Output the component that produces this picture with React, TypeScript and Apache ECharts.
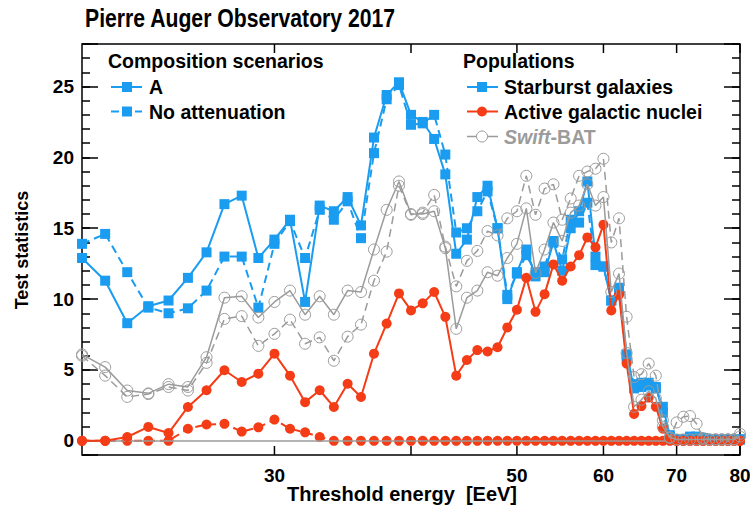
import React, { useEffect, useRef } from 'react';
import * as echarts from 'echarts';

// Threshold energies (EeV)
const energies = [
  20, 21, 22, 23, 24, 25, 26, 27, 28, 29,
  30, 31, 32, 33, 34, 35, 36, 37, 38, 39,
  40, 41, 42, 43, 44, 45, 46, 47, 48, 49,
  50, 51, 52, 53, 54, 55, 56, 57, 58, 59,
  60, 61, 62, 63, 64, 65, 66, 67, 68, 69,
  70, 71, 72, 73, 74, 75, 76, 77, 78, 79, 80,
];

// Starburst galaxies, composition scenario A
const sbgA = [
  12.9, 11.3, 8.3, 9.5, 9.9, 11.5, 13.3, 16.7, 17.3, 12.9,
  14.2, 15.6, 9.8, 16.6, 16.2, 17.2, 15.2, 21.4, 24.4, 25.3,
  23.0, 22.5, 21.3, 18.8, 13.2, 14.2, 17.2, 18.0, 15.0, 10.0,
  11.9, 13.5, 11.6, 11.9, 14.0, 12.0, 15.0, 16.2, 18.3, 13.0,
  12.3, 9.9, 10.8, 6.1, 3.7, 4.1, 3.9, 3.7, 2.4, 0.4,
  0.1, 0.1, 0.1, 0.3, 0.2, 0.1, 0.1, 0.1, 0.1, 0.1, 0.1,
];
// Starburst galaxies, no attenuation
const sbgNoAtt = [
  13.9, 14.6, 11.9, 9.4, 9.0, 9.35, 10.6, 13.0, 13.0, 9.4,
  13.9, 15.5, 12.9, 16.3, 15.6, 16.9, 14.3, 20.3, 24.1, 25.1,
  22.3, 22.4, 23.0, 20.2, 14.7, 15.0, 16.2, 17.6, 15.0, 10.3,
  11.8, 13.1, 11.9, 12.3, 14.1, 12.8, 15.6, 15.4, 16.8, 12.4,
  12.3, 9.9, 10.6, 5.9, 4.0, 3.8, 4.1, 3.8, 2.0, 0.3,
  0.1, 0.1, 0.3, 0.2, 0.1, 0.1, 0.1, 0.1, 0.1, 0.1, 0.1,
];
// Active galactic nuclei, scenario A
const agnA = [
  0, 0, 0.27, 0.98, 0.55, 2.39, 3.57, 4.98, 4.15, 4.74,
  6.15, 4.6, 2.73, 3.57, 2.39, 4.03, 3.09, 6.15, 8.27, 10.4,
  9.2, 9.7, 10.5, 8.75, 4.6, 5.7, 6.4, 6.3, 6.6, 8.0,
  9.25, 11.5, 9.1, 10.35, 12.45, 11.3, 12.3, 13.1, 14.35, 13.65,
  15.25, 9.2, 10.3, 5.45, 1.9, 2.45, 3.05, 2.4, 0.85, 0.15,
  0, 0, 0, 0, 0, 0, 0, 0, 0, 0, 0,
];
// Active galactic nuclei, no attenuation
const agnNoAtt = [
  0, 0, 0, 0, 0, 0.85, 1.15, 1.2, 0.65, 0.95,
  1.5, 0.85, 0.6, 0.27, 0, 0, 0, 0, 0, 0,
  0, 0, 0, 0, 0, 0, 0, 0, 0, 0,
  0, 0, 0, 0, 0, 0, 0, 0, 0, 0,
  0, 0, 0, 0, 0, 0, 0, 0, 0, 0,
  0, 0, 0, 0, 0, 0, 0, 0, 0, 0, 0,
];
// Swift-BAT, scenario A
const swiftA = [
  6.1, 5.2, 3.55, 3.35, 4.0, 3.8, 5.9, 10.1, 10.2, 8.7,
  9.8, 10.6, 8.9, 10.2, 8.9, 10.6, 10.5, 13.5, 16.3, 18.3,
  16.0, 16.0, 16.2, 13.6, 7.9, 10.1, 10.6, 11.9, 11.65, 12.9,
  13.9, 16.4, 11.85, 13.5, 15.4, 14.1, 16.1, 16.6, 18.1, 16.6,
  17.2, 10.5, 11.8, 6.2, 2.4, 2.9, 3.5, 3.0, 1.0, 0.25,
  0.1, 0.1, 0.1, 0.1, 0.1, 0.1, 0.1, 0.1, 0.1, 0.1, 0.3,
];
// Swift-BAT, no attenuation
const swiftNoAtt = [
  6.0, 4.6, 3.1, 3.3, 3.8, 3.55, 5.5, 8.6, 8.8, 6.7,
  7.55, 8.55, 6.85, 7.3, 5.65, 7.35, 8.2, 11.3, 13.35, 18.0,
  15.95, 16.1, 17.35, 13.7, 10.9, 12.7, 13.4, 14.8, 14.5, 15.7,
  16.2, 18.7, 15.95, 17.8, 18.1, 15.6, 17.1, 18.7, 19.0, 19.2,
  19.9, 14.0, 15.7, 8.75, 4.5, 4.7, 5.45, 4.6, 1.45, 0.2,
  1.3, 1.7, 1.75, 1.2, 0.2, 0.1, 0.1, 0.1, 0.1, 0.1, 0.5,
];

// x-axis tick marks, and the ones that carry a label
const xTickValues = [30, 40, 50, 60, 70, 80];
const xTickLabels = ['30', '', '50', '60', '70', '80'];

const BLUE = '#1a9cf0';
const RED = '#f43c16';
const GRAY = '#9b9b9b';
const FONT = '"Liberation Sans", Arial, Helvetica, sans-serif';
const LEG = 19.5;

type Kind = 'square' | 'dot' | 'open';

function makeLine(name: string, vals: number[], color: string, dashed: boolean, kind: Kind, z: number) {
  return {
    type: 'line',
    name,
    z,
    data: energies.map((e, i) => [e, vals[i]]),
    showAllSymbol: true,
    clip: false,
    silent: true,
    symbol: kind === 'square' ? 'rect' : 'circle',
    symbolSize: kind === 'square' ? 10 : kind === 'dot' ? 10 : 11,
    lineStyle: {
      color,
      width: kind === 'open' ? 1.5 : 2,
      type: dashed ? [8, 5] : 'solid',
    },
    itemStyle:
      kind === 'open'
        ? { color: 'rgba(0,0,0,0)', borderColor: color, borderWidth: 1 }
        : { color, borderWidth: 0 },
    emphasis: { disabled: true },
  };
}

function txt(x: number, y: number, text: string, size: number, opts: any = {}) {
  return {
    type: 'text',
    x,
    y,
    silent: true,
    ...opts.el,
    style: {
      text,
      font: `bold ${size}px ${FONT}`,
      fill: opts.fill || '#000',
      align: opts.align || 'left',
      textAlign: opts.align || 'left',
      verticalAlign: 'middle',
      textVerticalAlign: 'middle',
      ...(opts.style || {}),
    },
  };
}

export default function App() {
  const ref = useRef<HTMLDivElement>(null);

  useEffect(() => {
    if (!ref.current) return;
    const chart = echarts.init(ref.current, null, { renderer: 'svg' });

    const yCommon = {
      type: 'value',
      min: -1,
      max: 28,
      gridIndex: 0,
      axisLine: { show: false },
      splitLine: { show: false },
    };

    const option: any = {
      animation: false,
      backgroundColor: '#fff',
      grid: {
        left: 82,
        top: 44,
        width: 658,
        height: 411,
        show: true,
        borderColor: '#000',
        borderWidth: 1.5,
        backgroundColor: 'transparent',
      },
      xAxis: [
        {
          type: 'log',
          logBase: 10,
          min: 20,
          max: 80,
          axisLine: { show: false },
          axisTick: { show: false },
          axisLabel: { show: false },
          splitLine: { show: false },
          minorTick: { show: false },
        },
      ],
      yAxis: [
        {
          ...yCommon,
          position: 'left',
          minInterval: 5,
          maxInterval: 5,
          splitNumber: 6,
          axisTick: { show: true, inside: true, length: 16, lineStyle: { color: '#000', width: 1.5 } },
          axisLabel: {
            show: true,
            margin: 8,
            color: '#000',
            fontFamily: FONT,
            fontWeight: 'bold',
            fontSize: 19,
            showMinLabel: true,
            showMaxLabel: true,
            formatter: (v: number) => (Math.abs(v % 5) < 1e-9 ? String(v) : ''),
          },
        },
        {
          ...yCommon,
          position: 'left',
          interval: 1,
          axisTick: { show: true, inside: true, length: 8, lineStyle: { color: '#000', width: 1.5 } },
          axisLabel: { show: false },
        },
        {
          ...yCommon,
          position: 'right',
          minInterval: 5,
          maxInterval: 5,
          splitNumber: 6,
          axisTick: { show: true, inside: true, length: 16, lineStyle: { color: '#000', width: 1.5 } },
          axisLabel: { show: false },
        },
        {
          ...yCommon,
          position: 'right',
          interval: 1,
          axisTick: { show: true, inside: true, length: 8, lineStyle: { color: '#000', width: 1.5 } },
          axisLabel: { show: false },
        },
      ],
      series: [
        {
          type: 'custom',
          name: 'xticks',
          silent: true,
          clip: false,
          z: 20,
          data: xTickValues.map((v, i) => [v, 0, i]),
          renderItem: (params: any, api: any) => {
            const v = api.value(0);
            const label = xTickLabels[params.dataIndex];
            const pb = api.coord([v, -1]);
            const pt = api.coord([v, 28]);
            const children: any[] = [
              {
                type: 'line',
                shape: { x1: pb[0], y1: pb[1], x2: pb[0], y2: pb[1] - 9 },
                style: { stroke: '#000', lineWidth: 1.5 },
              },
              {
                type: 'line',
                shape: { x1: pt[0], y1: pt[1], x2: pt[0], y2: pt[1] + 9 },
                style: { stroke: '#000', lineWidth: 1.5 },
              },
            ];
            if (label) {
              children.push({
                type: 'text',
                style: {
                  text: label,
                  x: pb[0],
                  y: pb[1] + 20,
                  font: `bold 19px ${FONT}`,
                  fill: '#000',
                  align: 'center',
                  textAlign: 'center',
                  verticalAlign: 'middle',
                  textVerticalAlign: 'middle',
                },
              });
            }
            return { type: 'group', children };
          },
        },
        {
          ...makeLine('Zero', energies.map(() => 0), GRAY, false, 'open', 1),
          symbol: 'none',
          data: [],
          markLine: {
            silent: true,
            symbol: 'none',
            label: { show: false },
            lineStyle: { color: GRAY, width: 1.5, type: 'solid' },
            data: [{ yAxis: 0 }],
          },
        },
        makeLine('SBG no attenuation', sbgNoAtt, BLUE, true, 'square', 2),
        makeLine('SBG A', sbgA, BLUE, false, 'square', 3),
        makeLine('AGN no attenuation', agnNoAtt, RED, true, 'dot', 4),
        makeLine('AGN A', agnA, RED, false, 'dot', 5),
        makeLine('Swift-BAT no attenuation', swiftNoAtt, GRAY, true, 'open', 6),
        makeLine('Swift-BAT A', swiftA, GRAY, false, 'open', 7),
      ],
      graphic: [
        txt(85, 18, 'Pierre Auger Observatory 2017', 26.5, { el: { scaleX: 0.8 } }),
        txt(402, 494, 'Threshold energy  [EeV]', 20, { align: 'center' }),
        txt(22, 250, 'Test statistics', 18, { align: 'center', el: { rotation: Math.PI / 2 } }),

        // Composition scenarios legend
        txt(108, 61, 'Composition scenarios', LEG),
        { type: 'line', silent: true, shape: { x1: 111, y1: 87, x2: 142, y2: 87 }, style: { stroke: BLUE, lineWidth: 2 } },
        { type: 'rect', silent: true, shape: { x: 122, y: 82, width: 10, height: 10 }, style: { fill: BLUE } },
        txt(149, 87, 'A', LEG),
        { type: 'line', silent: true, shape: { x1: 111, y1: 111.5, x2: 119, y2: 111.5 }, style: { stroke: BLUE, lineWidth: 2 } },
        { type: 'line', silent: true, shape: { x1: 135, y1: 111.5, x2: 142, y2: 111.5 }, style: { stroke: BLUE, lineWidth: 2 } },
        { type: 'rect', silent: true, shape: { x: 122, y: 106.5, width: 10, height: 10 }, style: { fill: BLUE } },
        txt(149, 111.5, 'No attenuation', LEG),

        // Populations legend
        txt(463, 61, 'Populations', LEG),
        { type: 'line', silent: true, shape: { x1: 467, y1: 87, x2: 498, y2: 87 }, style: { stroke: BLUE, lineWidth: 2 } },
        { type: 'rect', silent: true, shape: { x: 477, y: 82, width: 10, height: 10 }, style: { fill: BLUE } },
        txt(504, 87, 'Starburst galaxies', LEG),
        { type: 'line', silent: true, shape: { x1: 467, y1: 111.5, x2: 498, y2: 111.5 }, style: { stroke: RED, lineWidth: 2 } },
        { type: 'circle', silent: true, shape: { cx: 482, cy: 111.5, r: 5 }, style: { fill: RED } },
        txt(504, 111.5, 'Active galactic nuclei', LEG),
        { type: 'line', silent: true, shape: { x1: 467, y1: 136.5, x2: 498, y2: 136.5 }, style: { stroke: GRAY, lineWidth: 1.5 } },
        { type: 'circle', silent: true, shape: { cx: 482, cy: 136.5, r: 5.5 }, style: { fill: '#fff', stroke: GRAY, lineWidth: 1 } },
        {
          type: 'text',
          x: 504,
          y: 136.5,
          silent: true,
          style: {
            text: '{i|Swift}{b|-BAT}',
            font: `bold ${LEG}px ${FONT}`,
            fill: GRAY,
            verticalAlign: 'middle',
            textVerticalAlign: 'middle',
            rich: {
              i: { fontStyle: 'italic', fontWeight: 'bold', fontSize: LEG, fontFamily: FONT, fill: GRAY, color: GRAY },
              b: { fontWeight: 'bold', fontSize: LEG, fontFamily: FONT, fill: GRAY, color: GRAY },
            },
          },
        },
      ],
    };

    chart.setOption(option);
    return () => chart.dispose();
  }, []);

  return (
    <div
      ref={ref}
      style={{ position: 'fixed', left: 0, top: 0, width: 750, height: 509, background: '#fff' }}
    />
  );
}
